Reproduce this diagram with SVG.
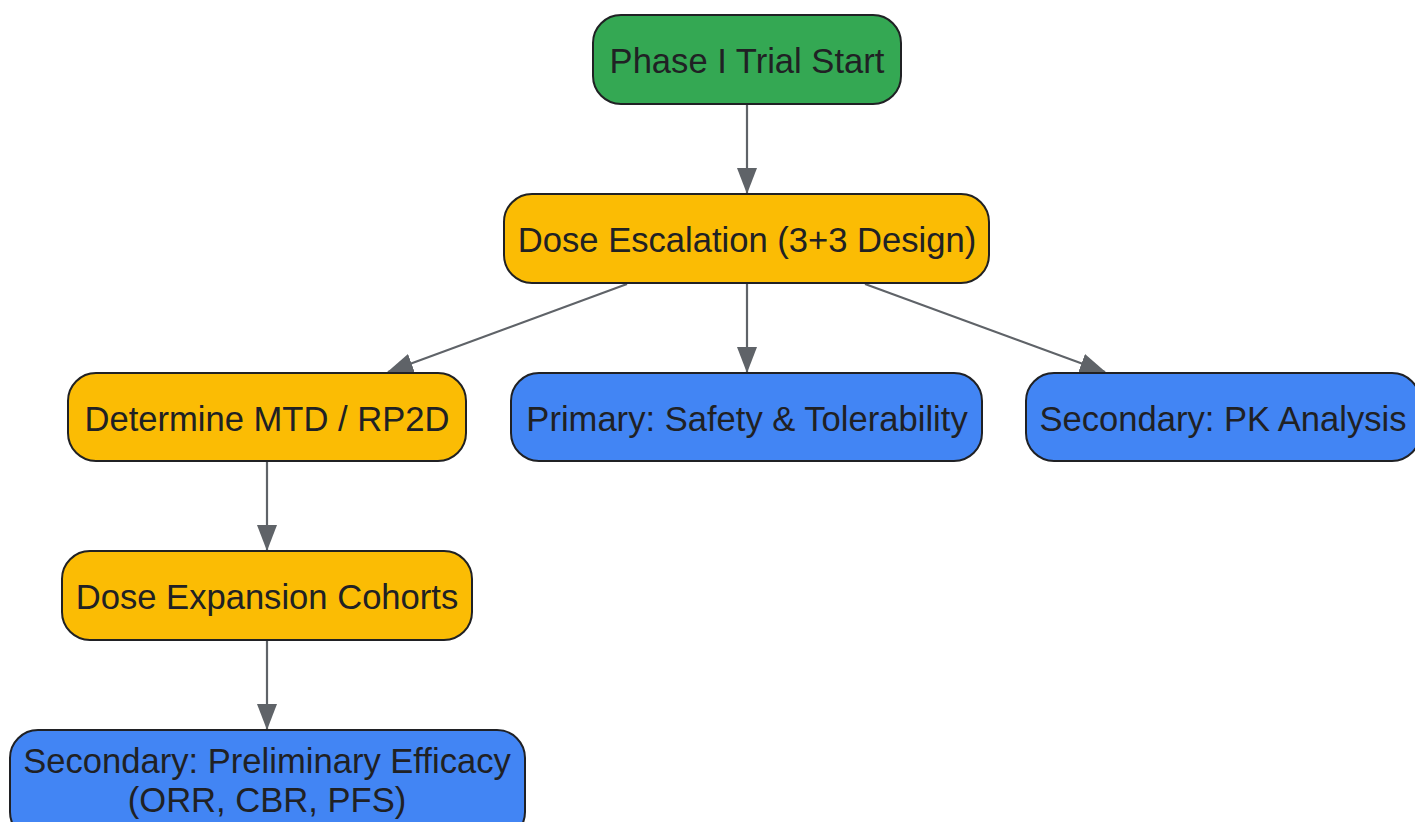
<svg xmlns="http://www.w3.org/2000/svg" width="1415" height="822" viewBox="0 0 1415 822">
<style>
.n{stroke:#202124;stroke-width:2}
.g{fill:#34A853}.y{fill:#FBBC04}.b{fill:#4285F4}
.t{font-family:"Liberation Sans",Arial,sans-serif;font-size:34.6px;fill:#202124;text-anchor:middle;dominant-baseline:central}
.e{stroke:#5f6368;stroke-width:2.2;fill:none;marker-end:url(#ah)}
</style>
<defs>
<marker id="ah" markerWidth="26" markerHeight="22" refX="25" refY="11" orient="auto" markerUnits="userSpaceOnUse">
<path d="M0,1 L26,11 L0,21 Z" fill="#5f6368"/>
</marker>
</defs>
<rect width="1415" height="822" fill="#ffffff"/>
<g id="edges">
<line class="e" x1="747" y1="104" x2="747" y2="193"/>
<line class="e" x1="627" y1="284" x2="388" y2="372"/>
<line class="e" x1="747" y1="284" x2="747" y2="372"/>
<line class="e" x1="865" y1="284" x2="1105" y2="372"/>
<line class="e" x1="267" y1="462" x2="267" y2="550"/>
<line class="e" x1="267" y1="641" x2="267" y2="729"/>
</g>
<g id="start"><rect class="n g" x="593" y="15" width="308" height="89" rx="28"/><text class="t" x="747" y="61">Phase I Trial Start</text></g>
<g id="escalation"><rect class="n y" x="504" y="194" width="485" height="89" rx="28"/><text class="t" x="747" y="240">Dose Escalation (3+3 Design)</text></g>
<g id="mtd"><rect class="n y" x="68" y="373" width="398" height="88" rx="28"/><text class="t" x="267" y="419">Determine MTD / RP2D</text></g>
<g id="safety"><rect class="n b" x="511" y="373" width="471" height="88" rx="28"/><text class="t" x="747" y="419">Primary: Safety &amp; Tolerability</text></g>
<g id="pk"><rect class="n b" x="1026" y="373" width="394" height="88" rx="28"/><text class="t" x="1223" y="419">Secondary: PK Analysis</text></g>
<g id="expansion"><rect class="n y" x="62" y="551" width="410" height="89" rx="28"/><text class="t" x="267" y="597">Dose Expansion Cohorts</text></g>
<g id="efficacy"><rect class="n b" x="10" y="730" width="515" height="110" rx="28"/><text class="t" x="267" y="761">Secondary: Preliminary Efficacy</text><text class="t" x="267" y="800">(ORR, CBR, PFS)</text></g>
</svg>
